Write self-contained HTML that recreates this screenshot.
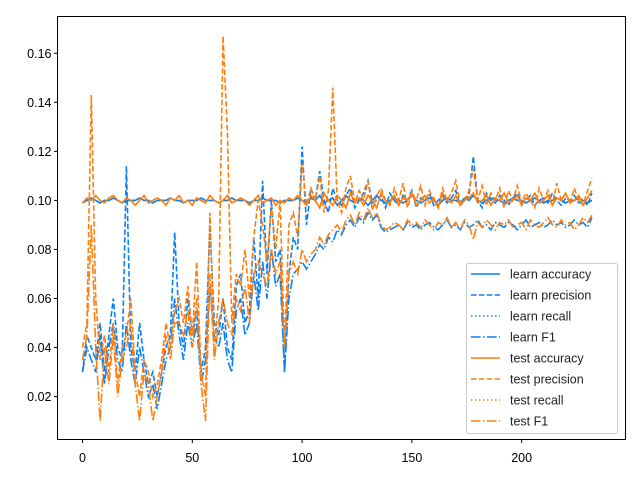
<!DOCTYPE html>
<html><head><meta charset="utf-8"><style>
body{margin:0;background:#fff}
svg{display:block;font-family:"Liberation Sans","DejaVu Sans",sans-serif}
</style></head><body>
<svg id="chart" width="640" height="480" viewBox="0 0 640 480">
<rect x="0" y="0" width="640" height="480" fill="#fff"/>
<g id="plot"></g>
<rect x="57.5" y="16.5" width="568" height="423" fill="none" stroke="#000" stroke-width="1"/>
<g id="xticks"></g>
<g id="yticks"></g>
<g id="legend"></g>
</svg>
<script>
const xTicks=[0,50,100,150,200];
const yTicks=[0.02,0.04,0.06,0.08,0.10,0.12,0.14,0.16];
const epochStep=2;
const learnAcc=[0.099,0.1,0.101,0.1,0.099,0.1,0.1,0.101,0.1,0.099,0.1,0.1,0.1,0.101,0.1,0.1,0.099,0.1,0.1,0.1,0.101,0.1,0.1,0.099,0.1,0.1,0.1,0.101,0.1,0.1,0.1,0.099,0.1,0.1,0.101,0.1,0.1,0.1,0.099,0.1,0.1,0.101,0.1,0.1,0.1,0.099,0.1,0.1,0.1,0.101,0.1,0.099,0.101,0.1,0.102,0.099,0.1,0.101,0.098,0.1,0.102,0.1,0.099,0.101,0.1,0.098,0.1,0.102,0.1,0.099,0.1,0.101,0.1,0.099,0.1,0.102,0.1,0.099,0.1,0.101,0.1,0.098,0.1,0.101,0.1,0.1,0.099,0.101,0.1,0.102,0.1,0.099,0.1,0.101,0.1,0.1,0.099,0.1,0.101,0.1,0.1,0.099,0.1,0.101,0.1,0.099,0.1,0.1,0.101,0.1,0.099,0.1,0.1,0.101,0.1,0.099,0.1];
const learnPrec=[0.03,0.045,0.04,0.035,0.05,0.03,0.045,0.06,0.04,0.035,0.114,0.04,0.03,0.05,0.035,0.025,0.03,0.02,0.03,0.04,0.045,0.087,0.05,0.04,0.06,0.045,0.055,0.03,0.04,0.09,0.05,0.045,0.06,0.04,0.035,0.065,0.07,0.05,0.055,0.085,0.06,0.108,0.07,0.1,0.075,0.08,0.03,0.07,0.085,0.08,0.122,0.09,0.105,0.1,0.112,0.1,0.095,0.105,0.1,0.098,0.102,0.105,0.097,0.1,0.103,0.108,0.099,0.1,0.102,0.097,0.103,0.1,0.098,0.102,0.1,0.104,0.097,0.101,0.1,0.103,0.098,0.1,0.102,0.099,0.101,0.104,0.098,0.1,0.102,0.118,0.1,0.097,0.103,0.1,0.099,0.102,0.1,0.098,0.101,0.103,0.099,0.1,0.102,0.098,0.1,0.101,0.099,0.103,0.1,0.098,0.101,0.1,0.102,0.099,0.1,0.098,0.103];
const learnF1=[0.03,0.04,0.035,0.03,0.045,0.025,0.04,0.05,0.035,0.03,0.05,0.035,0.025,0.04,0.03,0.02,0.025,0.015,0.025,0.035,0.04,0.06,0.045,0.035,0.05,0.04,0.05,0.025,0.035,0.065,0.045,0.04,0.05,0.035,0.03,0.055,0.06,0.045,0.05,0.07,0.055,0.075,0.06,0.08,0.065,0.07,0.03,0.06,0.07,0.072,0.075,0.072,0.075,0.078,0.082,0.08,0.085,0.083,0.088,0.086,0.09,0.092,0.089,0.093,0.091,0.095,0.092,0.094,0.089,0.087,0.088,0.089,0.09,0.088,0.091,0.089,0.09,0.088,0.09,0.091,0.089,0.088,0.09,0.092,0.089,0.09,0.088,0.091,0.089,0.09,0.092,0.089,0.09,0.088,0.091,0.09,0.089,0.091,0.09,0.088,0.09,0.092,0.089,0.09,0.091,0.089,0.09,0.092,0.09,0.091,0.089,0.09,0.092,0.09,0.091,0.089,0.093];
const testAcc=[0.099,0.101,0.1,0.102,0.1,0.099,0.101,0.102,0.1,0.099,0.101,0.1,0.098,0.1,0.102,0.099,0.1,0.101,0.1,0.098,0.101,0.1,0.102,0.099,0.1,0.098,0.101,0.1,0.099,0.102,0.1,0.099,0.1,0.102,0.099,0.1,0.101,0.1,0.098,0.1,0.102,0.099,0.1,0.101,0.098,0.1,0.099,0.101,0.1,0.102,0.1,0.098,0.102,0.1,0.097,0.103,0.1,0.098,0.102,0.1,0.097,0.103,0.099,0.101,0.098,0.102,0.1,0.097,0.103,0.1,0.099,0.102,0.098,0.101,0.1,0.103,0.098,0.1,0.102,0.099,0.101,0.097,0.103,0.1,0.099,0.102,0.098,0.1,0.101,0.103,0.099,0.1,0.102,0.098,0.101,0.1,0.103,0.099,0.1,0.102,0.098,0.101,0.1,0.103,0.099,0.1,0.102,0.098,0.101,0.1,0.103,0.099,0.1,0.102,0.098,0.101,0.104];
const testPrec=[0.04,0.05,0.143,0.06,0.035,0.045,0.03,0.05,0.025,0.04,0.045,0.06,0.03,0.02,0.035,0.03,0.02,0.025,0.035,0.05,0.04,0.055,0.06,0.05,0.065,0.045,0.075,0.03,0.02,0.095,0.04,0.06,0.167,0.128,0.05,0.07,0.065,0.08,0.06,0.085,0.1,0.09,0.075,0.098,0.08,0.1,0.04,0.09,0.095,0.085,0.115,0.098,0.105,0.1,0.11,0.095,0.104,0.146,0.1,0.095,0.105,0.11,0.099,0.104,0.1,0.108,0.096,0.102,0.105,0.1,0.098,0.105,0.1,0.107,0.097,0.103,0.1,0.106,0.098,0.104,0.1,0.097,0.105,0.1,0.103,0.108,0.099,0.1,0.104,0.113,0.1,0.106,0.098,0.103,0.1,0.105,0.097,0.104,0.1,0.106,0.099,0.103,0.1,0.097,0.105,0.1,0.104,0.098,0.107,0.1,0.103,0.099,0.105,0.1,0.098,0.104,0.109];
const testF1=[0.035,0.045,0.09,0.04,0.01,0.04,0.025,0.045,0.02,0.035,0.04,0.05,0.025,0.01,0.03,0.025,0.01,0.02,0.03,0.045,0.035,0.05,0.05,0.045,0.055,0.04,0.06,0.025,0.01,0.07,0.035,0.05,0.06,0.05,0.045,0.06,0.055,0.065,0.05,0.07,0.075,0.07,0.065,0.08,0.07,0.075,0.04,0.07,0.075,0.07,0.08,0.075,0.078,0.08,0.085,0.082,0.086,0.088,0.09,0.087,0.092,0.094,0.09,0.095,0.092,0.097,0.093,0.095,0.09,0.088,0.089,0.091,0.09,0.088,0.092,0.09,0.091,0.089,0.092,0.09,0.088,0.091,0.09,0.093,0.089,0.091,0.088,0.092,0.09,0.084,0.091,0.089,0.092,0.09,0.088,0.091,0.09,0.092,0.089,0.09,0.091,0.088,0.092,0.09,0.089,0.091,0.093,0.09,0.089,0.092,0.09,0.091,0.088,0.09,0.093,0.091,0.094];
const seriesNames=["learn accuracy","learn precision","learn recall","learn F1","test accuracy","test precision","test recall","test F1"];

const NS="http://www.w3.org/2000/svg";
const X0=57.5,X1=625.5,Y0=16.5,Y1=439.5;
const xMin=-11.4,xMax=247.3,yMin=0.0025,yMax=0.175;
function sx(v){return X0+(v-xMin)/(xMax-xMin)*(X1-X0);}
function sy(v){return Y1-(v-yMin)/(yMax-yMin)*(Y1-Y0);}
const BLUE="#0a80f5",ORANGE="#ff7f0e";
const styles=[[BLUE,""],[BLUE,"5.5,2.4"],[BLUE,"1.5,2.5"],[BLUE,"9.6,2.4,1.5,2.4"],[ORANGE,""],[ORANGE,"5.5,2.4"],[ORANGE,"1.5,2.5"],[ORANGE,"9.6,2.4,1.5,2.4"]];
const data=[learnAcc,learnPrec,learnAcc,learnF1,testAcc,testPrec,testAcc,testF1];
const plot=document.getElementById("plot");
const keys=["learn-accuracy","learn-precision","learn-recall","learn-f1","test-accuracy","test-precision","test-recall","test-f1"];
data.forEach((arr,i)=>{
  const p=document.createElementNS(NS,"path");
  p.setAttribute("d",arr.map((v,k)=>(k?"L":"M")+sx(k*epochStep).toFixed(1)+","+sy(v).toFixed(1)).join(""));
  p.setAttribute("fill","none");p.setAttribute("stroke",styles[i][0]);p.setAttribute("stroke-width","1.6");
  if(styles[i][1])p.setAttribute("stroke-dasharray",styles[i][1]);
  
  
  plot.appendChild(p);
});
const xt=document.getElementById("xticks");
xTicks.forEach(v=>{
  const l=document.createElementNS(NS,"line");
  l.setAttribute("x1",sx(v));l.setAttribute("x2",sx(v));l.setAttribute("y1",Y1);l.setAttribute("y2",Y1+3.5);l.setAttribute("stroke","#000");
  
  
  xt.appendChild(l);
  const t=document.createElementNS(NS,"text");
  t.setAttribute("x",sx(v));t.setAttribute("y",462);t.setAttribute("text-anchor","middle");t.setAttribute("font-size","12.5");
  t.textContent=v;
  
  
  xt.appendChild(t);
});
const yt=document.getElementById("yticks");
yTicks.forEach(v=>{
  const l=document.createElementNS(NS,"line");
  l.setAttribute("x1",X0-3.5);l.setAttribute("x2",X0);l.setAttribute("y1",sy(v));l.setAttribute("y2",sy(v));l.setAttribute("stroke","#000");
  
  
  yt.appendChild(l);
  const t=document.createElementNS(NS,"text");
  t.setAttribute("x",X0-6);t.setAttribute("y",sy(v)+4.5);t.setAttribute("text-anchor","end");t.setAttribute("font-size","12.5");
  t.textContent=v.toFixed(2);
  
  
  yt.appendChild(t);
});
const lg=document.getElementById("legend");
const box=document.createElementNS(NS,"rect");
box.setAttribute("x",466.5);box.setAttribute("y",263.5);box.setAttribute("width",151);box.setAttribute("height",170);box.setAttribute("rx",2);
box.setAttribute("fill","#fff");box.setAttribute("fill-opacity","0.8");box.setAttribute("stroke","#ccc");


lg.appendChild(box);
seriesNames.forEach((n,i)=>{
  const y=274+i*21;
  const l=document.createElementNS(NS,"line");
  l.setAttribute("x1",471);l.setAttribute("x2",500);l.setAttribute("y1",y);l.setAttribute("y2",y);
  l.setAttribute("stroke",styles[i][0]);l.setAttribute("stroke-width","1.5");
  if(styles[i][1])l.setAttribute("stroke-dasharray",styles[i][1]);
  
  
  lg.appendChild(l);
  const t=document.createElementNS(NS,"text");
  t.setAttribute("x",510);t.setAttribute("y",y+4.5);t.setAttribute("font-size","12.5");t.setAttribute("fill","#222");
  t.textContent=n;
  
  
  lg.appendChild(t);
});
</script>
</body></html>
